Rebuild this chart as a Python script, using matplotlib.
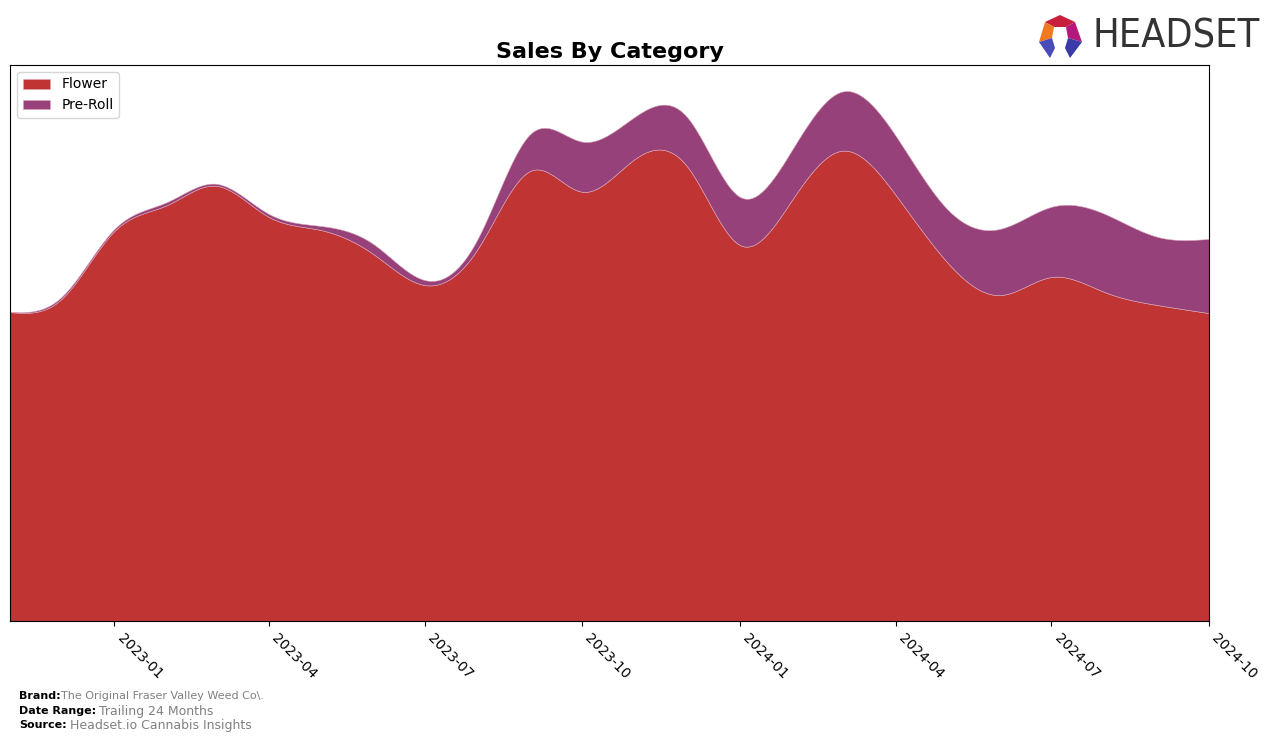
import numpy as np
import pandas as pd
import matplotlib
matplotlib.use("Agg")
import matplotlib.pyplot as plt
import matplotlib.dates as mdates
from matplotlib.patches import Polygon

# monthly sales (arbitrary units)
months = pd.date_range("2022-11-01", "2024-10-01", freq="MS")
flower = [308, 321, 389, 415, 434, 403, 390, 366, 335, 371, 449, 428,
          461, 454, 375, 421, 469, 425, 358, 325, 343, 328, 315, 307]
pre_roll = [0, 2, 2, 3, 2, 3, 4, 10, 5, 10, 37, 50,
            42, 49, 48, 50, 59, 59, 53, 66, 70, 78, 68, 74]
categories = ["Flower", "Pre-Roll"]
colors = ["#c13434", "#97417a"]


def natural_spline(x, y, n=500):
    """Natural cubic spline through (x, y), sampled at n points."""
    x = np.asarray(x, float)
    y = np.asarray(y, float)
    k = len(x)
    h = np.diff(x)
    A = np.zeros((k, k))
    b = np.zeros(k)
    A[0, 0] = 1
    A[-1, -1] = 1
    for i in range(1, k - 1):
        A[i, i - 1] = h[i - 1]
        A[i, i] = 2 * (h[i - 1] + h[i])
        A[i, i + 1] = h[i]
        b[i] = 6 * ((y[i + 1] - y[i]) / h[i] - (y[i] - y[i - 1]) / h[i - 1])
    M = np.linalg.solve(A, b)
    xs = np.linspace(x[0], x[-1], n)
    idx = np.clip(np.searchsorted(x, xs) - 1, 0, k - 2)
    x0, x1 = x[idx], x[idx + 1]
    hh = x1 - x0
    t0 = x1 - xs
    t1 = xs - x0
    ys = (M[idx] * t0 ** 3 / (6 * hh) + M[idx + 1] * t1 ** 3 / (6 * hh)
          + (y[idx] / hh - M[idx] * hh / 6) * t0
          + (y[idx + 1] / hh - M[idx + 1] * hh / 6) * t1)
    return xs, ys


def main():
    fig = plt.figure(figsize=(12.76, 7.41), dpi=100)
    ax = fig.add_axes([10 / 1276, 120 / 741, 1199 / 1276, 556 / 741])

    xnum = mdates.date2num(months)
    xs, f_s = natural_spline(xnum, flower)
    _, p_s = natural_spline(xnum, pre_roll)
    p_s = np.clip(p_s, 0, None)

    ax.stackplot(xs, f_s, p_s, labels=categories, colors=colors,
                 edgecolor="#dba8b8", linewidth=0.4)

    ax.set_xlim(xnum[0], xnum[-1])
    top = max(np.array(flower) + np.array(pre_roll)) * 1.05
    ax.set_ylim(0, top)
    ax.xaxis.set_major_locator(mdates.MonthLocator(bymonth=[1, 4, 7, 10]))
    ax.xaxis.set_major_formatter(mdates.DateFormatter("%Y-%m"))
    plt.setp(ax.get_xticklabels(), rotation=-45, ha="left", fontsize=10)
    ax.set_yticks([])

    ax.set_title("Sales By Category", fontsize=16, fontweight="bold", pad=5)
    ax.legend(loc="upper left", fontsize=10)

    # footer
    fig.text(19 / 1276, 1 - 696 / 741, "Brand:", fontsize=8, fontweight="bold", va="center")
    fig.text(61 / 1276, 1 - 696 / 741, "The Original Fraser Valley Weed Co\\.", fontsize=8,
             color="gray", va="center")
    fig.text(19 / 1276, 1 - 711 / 741, "Date Range:", fontsize=8, fontweight="bold", va="center")
    fig.text(99 / 1276, 1 - 711 / 741, "Trailing 24 Months", fontsize=9, color="gray", va="center")
    fig.text(19 / 1276, 1 - 725 / 741, "Source:", fontsize=8, fontweight="bold", va="center")
    fig.text(70 / 1276, 1 - 725 / 741, "Headset.io Cannabis Insights", fontsize=9,
             color="gray", va="center")

    # logo: word mark sized to fit its box
    logo = fig.text(1093 / 1276, 1 - 37 / 741, "HEADSET", fontsize=30, color="#333333",
                    va="center", ha="left", fontstretch="condensed")
    renderer = fig.canvas.get_renderer()
    w = logo.get_window_extent(renderer).width
    logo.set_fontsize(30 * 167 / w)

    pts = {
        "top": [(1045, 22), (1060, 15), (1075, 22), (1066, 27), (1054, 27)],
        "left": [(1045, 22), (1054, 27), (1052, 38), (1039, 42)],
        "right": [(1075, 22), (1066, 27), (1068, 38), (1082, 42)],
        "bl": [(1039, 42), (1052, 38), (1055, 48), (1050, 58)],
        "br": [(1082, 42), (1068, 38), (1065, 48), (1070, 58)],
    }
    pcols = {"top": "#c8203c", "left": "#f07a22", "right": "#b5187a",
             "bl": "#4a4ab8", "br": "#3a3aa8"}
    for key, p in pts.items():
        poly = Polygon([(px / 1276, 1 - py / 741) for px, py in p], closed=True,
                       transform=fig.transFigure, facecolor=pcols[key], edgecolor="none")
        fig.patches.append(poly)

    fig.savefig("out.png", dpi=100)


if __name__ == "__main__":
    main()
